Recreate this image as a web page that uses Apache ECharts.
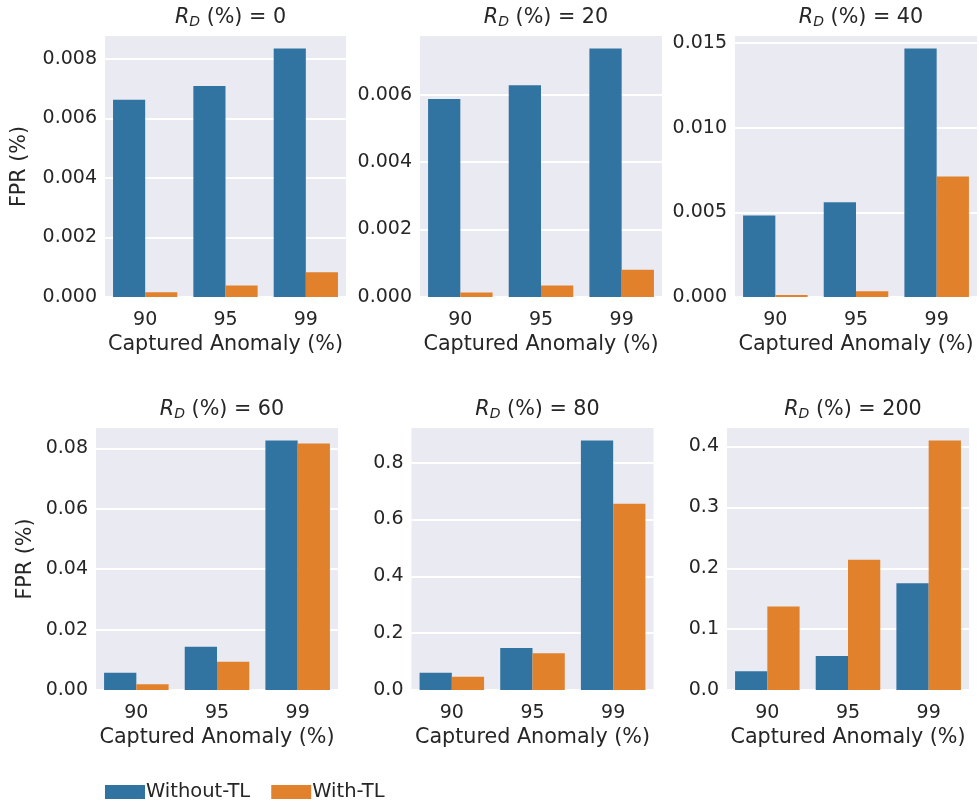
<!DOCTYPE html>
<html>
<head>
<meta charset="utf-8">
<script src="https://cdn.jsdelivr.net/npm/echarts@6/dist/echarts.min.js"></script>
<style>
  html, body { margin: 0; padding: 0; background: #ffffff; }
  #chart { width: 979px; height: 804px; }
</style>
</head>
<body>
<div id="chart"></div>
<script>
// Captured anomaly levels on the x axis of every panel
const categories = ['90', '95', '99'];
// R_D values, one panel each
const rdValues = ['0', '20', '40', '60', '80', '200'];
const seriesNames = ['Without-TL', 'With-TL'];

// FPR (%) per panel
const rd0_without = [0.00663, 0.00709, 0.00835];
const rd0_with = [0.00016, 0.00039, 0.00083];
const rd20_without = [0.00587, 0.00628, 0.00737];
const rd20_with = [0.00013, 0.00034, 0.00081];
const rd40_without = [0.00482, 0.00560, 0.01468];
const rd40_with = [0.00012, 0.00034, 0.00712];
const rd60_without = [0.0057, 0.01434, 0.08265];
const rd60_with = [0.0019, 0.00937, 0.08166];
const rd80_without = [0.061, 0.148, 0.878];
const rd80_with = [0.047, 0.129, 0.655];
const rd200_without = [0.031, 0.056, 0.1755];
const rd200_with = [0.137, 0.214, 0.410];

// y tick spacing and label decimals per panel
const tickIntervals = [0.002, 0.002, 0.005, 0.02, 0.2, 0.1];
const tickDecimals = [3, 3, 3, 2, 1, 1];

const panelWithout = [rd0_without, rd20_without, rd40_without, rd60_without, rd80_without, rd200_without];
const panelWith = [rd0_with, rd20_with, rd40_with, rd60_with, rd80_with, rd200_with];

// plot boxes: [left, top, width, height]
const boxes = [
  [105, 36, 241, 261],
  [420, 36, 242, 261],
  [735, 36, 242, 261],
  [96, 428, 242, 262],
  [411.5, 428, 242, 262],
  [727, 428, 242, 262]
];

const textColor = '#262626';
const fontFamily = 'DejaVu Sans';
const colors = ['#3274A1', '#E1812C'];

const grids = [], xAxes = [], yAxes = [], series = [], titles = [];

boxes.forEach((b, i) => {
  grids.push({
    left: b[0], top: b[1], width: b[2], height: b[3],
    show: true, backgroundColor: '#EAEAF2', borderWidth: 0,
    containLabel: false
  });
  xAxes.push({
    type: 'category', gridIndex: i, data: categories,
    axisLine: { show: false }, axisTick: { show: false },
    axisLabel: { fontSize: 19, color: textColor, fontFamily: fontFamily, margin: 14 },
    splitLine: { show: false },
    name: 'Captured Anomaly (%)', nameLocation: 'middle', nameGap: 37,
    nameTextStyle: { fontSize: 20.7, color: textColor, fontFamily: fontFamily }
  });
  const peak = Math.max(...panelWithout[i], ...panelWith[i]);
  const d = tickDecimals[i];
  const yAxis = {
    type: 'value', gridIndex: i, min: 0, max: peak * 1.05,
    interval: tickIntervals[i],
    axisLine: { show: false }, axisTick: { show: false },
    axisLabel: {
      fontSize: 19, color: textColor, fontFamily: fontFamily, margin: 8,
      showMaxLabel: false,
      formatter: v => v.toFixed(d)
    },
    splitLine: { show: true, showMaxLine: false, lineStyle: { color: '#ffffff', width: 2 } }
  };
  if (i === 0 || i === 3) {
    yAxis.name = 'FPR (%)';
    yAxis.nameLocation = 'middle';
    yAxis.nameRotate = 90;
    yAxis.nameGap = i === 0 ? 75 : 60;
    yAxis.nameTextStyle = { fontSize: 20.7, color: textColor, fontFamily: fontFamily };
  }
  yAxes.push(yAxis);

  [panelWithout[i], panelWith[i]].forEach((vals, s) => {
    series.push({
      type: 'bar', name: seriesNames[s], xAxisIndex: i, yAxisIndex: i,
      data: vals, barGap: '0%', barCategoryGap: '20%',
      itemStyle: { color: colors[s] },
      emphasis: { disabled: true },
      animation: false
    });
  });

  titles.push({
    text: '{r|R}{sub|D}{t| (%) = ' + rdValues[i] + '}',
    left: b[0] + b[2] / 2, top: b[1] - 35, textAlign: 'center',
    textStyle: {
      fontWeight: 'normal',
      rich: {
        r: { fontSize: 20.7, fontStyle: 'italic', fontWeight: 'normal', color: textColor, fontFamily: fontFamily },
        sub: { fontSize: 14, fontStyle: 'italic', fontWeight: 'normal', color: textColor, fontFamily: fontFamily, padding: [9, 0, 0, 0] },
        t: { fontSize: 20.7, fontWeight: 'normal', color: textColor, fontFamily: fontFamily }
      }
    }
  });
});

const chart = echarts.init(document.getElementById('chart'), null, { renderer: 'canvas' });
chart.setOption({
  backgroundColor: '#ffffff',
  animation: false,
  title: titles,
  legend: {
    data: seriesNames, left: 100, top: 777, orient: 'horizontal',
    itemWidth: 40, itemHeight: 14, itemGap: 21, icon: 'rect',
    textStyle: { fontSize: 19.5, color: textColor, fontFamily: fontFamily, padding: [0, 0, 0, -4] },
    itemStyle: { borderWidth: 0 }
  },
  grid: grids,
  xAxis: xAxes,
  yAxis: yAxes,
  series: series
});
</script>
</body>
</html>
